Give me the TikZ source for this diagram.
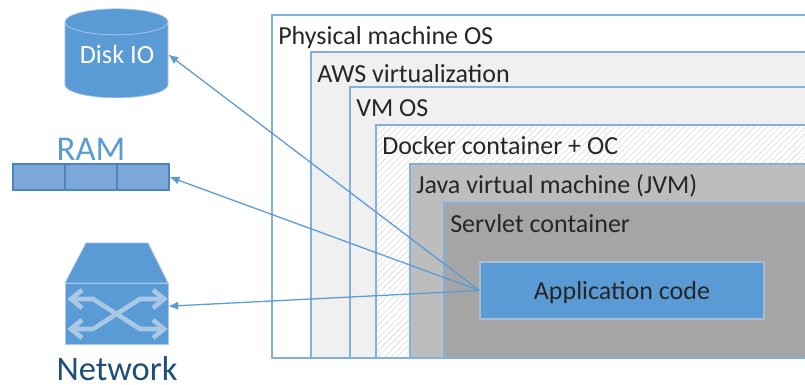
\documentclass[tikz,border=0pt]{standalone}
\usepackage{fontspec}
\setmainfont{Carlito}
\usetikzlibrary{arrows.meta,patterns.meta,shapes.geometric}
\definecolor{blued}{RGB}{91,155,213}
\definecolor{edged}{RGB}{130,176,224}
\definecolor{ramd}{RGB}{124,167,217}
\definecolor{ramedge}{RGB}{76,132,188}
\definecolor{netd}{RGB}{169,200,230}
\definecolor{navyd}{RGB}{31,78,121}
\definecolor{lightg}{RGB}{240,240,240}
\definecolor{midg}{RGB}{189,189,189}
\definecolor{darkg}{RGB}{165,165,165}
\tikzset{
    layerbox/.style = {draw = edged, line width = 0.8pt},
    layerlabel/.style = {anchor = base west, inner sep = 0pt, font = \fontsize{18.5}{20}\selectfont, text = black!85},
    ramcell/.style = {draw = ramedge, line width = 0.8pt, fill = ramd, minimum width = 1.3cm, minimum height = 0.65cm, inner sep = 0pt},
    callarrow/.style = {draw = blued, line width = 0.9pt, -{Latex[length=7pt,width=6pt]}},
    netarrow/.style = {draw = netd, line width = 3.3pt}
}

\begin{document}
\begin{tikzpicture}[x=0.025cm,y=-0.025cm]
    \clip (0,0) rectangle (805,385);
    % nested layers
    \draw[layerbox, fill = white] (272,15) rectangle++(540,343);
    \draw[layerbox, fill = lightg] (311,52) rectangle++(500,306);
    \draw[layerbox, fill = lightg] (350,87) rectangle++(460,271);
    \fill[white] (376,125) rectangle++(440,233);
    \fill[pattern = {Lines[angle=45,distance=3.2pt,line width=0.4pt]}, pattern color = black!15] (376,125) rectangle++(440,233);
    \draw[layerbox] (376,125) rectangle++(440,233);
    \draw[layerbox, fill = midg] (410,164) rectangle++(400,194);
    \draw[layerbox, fill = darkg] (444,203) rectangle++(370,155);
    \node[layerlabel] (physical) at (278,44.5) {Physical machine OS};
    \node[layerlabel] (aws) at (317,82.5) {AWS virtualization};
    \node[layerlabel] (vmos) at (356,116.5) {VM OS};
    \node[layerlabel] (docker) at (382,154.5) {Docker container + OC};
    \node[layerlabel] (jvm) at (416,193.5) {Java virtual machine (JVM)};
    \node[layerlabel] (servlet) at (450,232.5) {Servlet container};
    \node[draw = netd!70!darkg, line width = 0.8pt, fill = blued, minimum width = 7.1cm, minimum height = 1.425cm, inner sep = 0pt, text depth = 0pt, font = \fontsize{18.5}{20}\selectfont, text = black!85] (app) at (622,290.5) {Application code};
    % disk
    \node[shape = cylinder, shape border rotate = 90, aspect = 0.35, draw = netd, line width = 0.5pt, cylinder uses custom fill, cylinder body fill = blued, cylinder end fill = blued, minimum width = 2.575cm, minimum height = 2.225cm, inner sep = 0pt, font = \fontsize{18.7}{20}\selectfont] (disk) at (116.5,60) {\phantom{Disk IO}};
    \node[font = \fontsize{18.7}{20}\selectfont, text = white, inner sep = 0pt] (disklabel) at (117,54) {Disk IO};
    % ram
    \node[ramcell] (ramone) at (39,177) {};
    \node[ramcell] (ramtwo) at (91,177) {};
    \node[ramcell] (ramthree) at (143,177) {};
    \node[anchor = base, font = \fontsize{24.7}{26}\selectfont, text = blued, inner sep = 0pt] (ramlabel) at (91,161) {RAM};
    % network
    \draw[draw = netd, line width = 0.5pt, fill = blued] (86,243) -- (148,243) -- (168,283) -- (65,283) -- cycle;
    \node[draw = netd, line width = 0.5pt, fill = blued, minimum width = 2.575cm, minimum height = 1.525cm, inner sep = 0pt] (network) at (116.5,313.5) {};
    \draw[netarrow] (72,299) -- (93,299) -- (140,329) -- (162,329);
    \draw[netarrow] (72,329) -- (93,329) -- (140,299) -- (162,299);
    \foreach \y in {299,329}
        {\draw[netarrow] (82,\y-9) -- (71,\y) -- (82,\y+9);
         \draw[netarrow] (153,\y-9) -- (164,\y) -- (153,\y+9);}
    \node[anchor = base, font = \fontsize{24.5}{26}\selectfont, text = navyd, inner sep = 0pt] (netlabel) at (117,381) {Network};
    % calls
    \draw[callarrow] (app.west) to (disk.6.6);
    \draw[callarrow] (app.west) to (ramthree.east);
    \draw[callarrow] (app.west) to (network.8);
\end{tikzpicture}
\end{document}
